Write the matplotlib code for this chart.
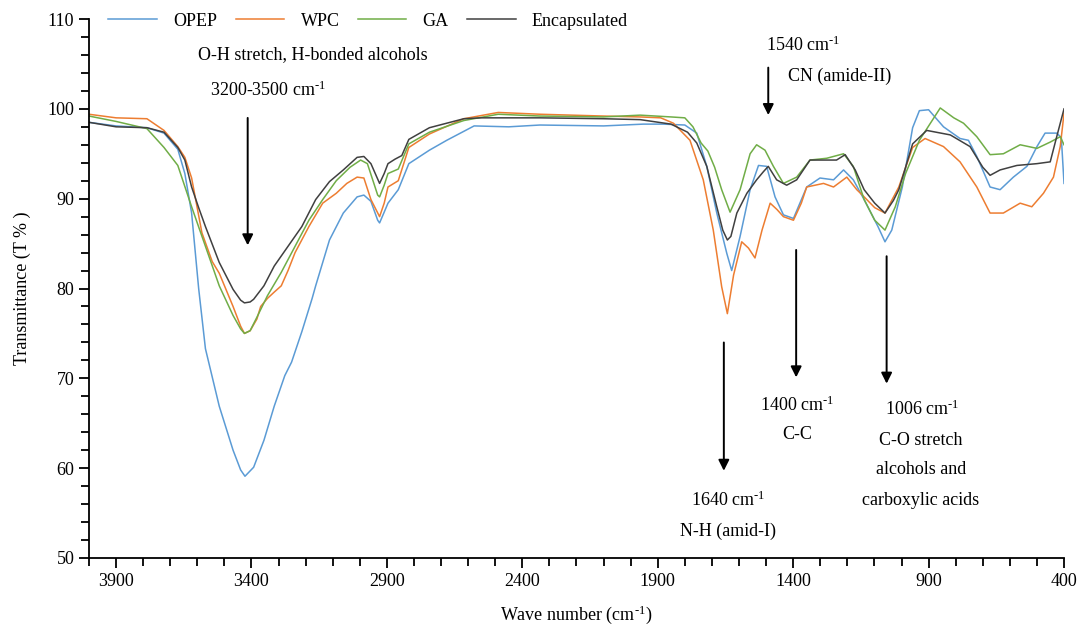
import matplotlib
matplotlib.use('Agg')
import matplotlib.pyplot as plt
from matplotlib.ticker import MultipleLocator

plt.rcParams['font.family'] = ['Liberation Serif', 'DejaVu Serif']
plt.rcParams['mathtext.fontset'] = 'custom'
plt.rcParams['mathtext.rm'] = 'Liberation Serif'
plt.rcParams['mathtext.it'] = 'Liberation Serif:italic'

# ---- data (wave number, transmittance %) ----
opep_wn = [4000, 3900, 3786, 3723, 3672, 3646, 3621, 3595, 3570, 3519, 3468, 3440, 3424, 3392,
           3354, 3316, 3277, 3252, 3214, 3176, 3163, 3112, 3061, 3010, 2985, 2959, 2934, 2927,
           2910, 2896, 2858, 2819, 2743, 2679, 2578, 2450, 2335, 2100, 1953, 1880, 1800, 1756,
           1719, 1682, 1645, 1627, 1596, 1559, 1528, 1498, 1467, 1436, 1399, 1350, 1301, 1251,
           1214, 1178, 1138, 1087, 1061, 1036, 997, 959, 934, 900, 845, 784, 753, 722, 673,
           636, 587, 537, 500, 470, 427, 410, 400]
opep_t = [98.5, 98.1, 97.9, 97.3, 95.5, 92.8, 88.4, 80.0, 73.3, 66.9, 62.0, 59.8, 59.1, 60.1,
          63.1, 66.9, 70.3, 71.8, 75.2, 78.9, 80.3, 85.4, 88.4, 90.2, 90.4, 89.7, 87.6, 87.3,
          88.5, 89.5, 91.0, 93.9, 95.4, 96.5, 98.1, 98.0, 98.2, 98.1, 98.3, 98.3, 98.2, 97.3,
          93.6, 88.4, 83.9, 82.0, 85.8, 91.0, 93.7, 93.6, 90.2, 88.2, 87.8, 91.3, 92.3, 92.1,
          93.2, 92.1, 89.9, 86.9, 85.2, 86.5, 91.3, 97.9, 99.8, 99.9, 98.0, 96.7, 96.5, 94.7,
          91.3, 91.0, 92.4, 93.6, 95.8, 97.3, 97.3, 96.8, 91.7]

wpc_wn = [4000, 3900, 3786, 3723, 3672, 3646, 3621, 3583, 3545, 3519, 3468, 3440, 3426, 3405,
          3380, 3366, 3341, 3316, 3290, 3265, 3239, 3188, 3137, 3087, 3048, 3010, 2985, 2959,
          2927, 2910, 2896, 2858, 2819, 2743, 2616, 2489, 2335, 2100, 1965, 1889, 1842, 1781,
          1732, 1695, 1664, 1643, 1620, 1590, 1565, 1541, 1515, 1485, 1460, 1436, 1399, 1370,
          1350, 1288, 1251, 1202, 1165, 1138, 1099, 1061, 1010, 959, 913, 845, 784, 722, 673,
          624, 562, 519, 476, 439, 414, 400]
wpc_t = [99.4, 99.0, 98.9, 97.6, 95.8, 94.6, 92.3, 86.2, 83.0, 81.7, 78.0, 75.8, 75.0, 75.3,
         76.6, 78.0, 78.9, 79.6, 80.3, 82.0, 84.0, 86.9, 89.5, 90.6, 91.7, 92.4, 92.3, 89.9,
         88.0, 89.5, 91.3, 92.0, 95.7, 97.2, 98.9, 99.6, 99.4, 99.2, 99.1, 99.0, 98.4, 96.5,
         92.1, 86.5, 80.2, 77.2, 81.5, 85.2, 84.5, 83.4, 86.5, 89.5, 88.8, 88.0, 87.6, 89.5,
         91.3, 91.7, 91.3, 92.4, 91.0, 90.2, 89.0, 88.4, 91.3, 95.7, 96.7, 95.8, 94.1, 91.3,
         88.4, 88.4, 89.5, 89.1, 90.6, 92.4, 95.8, 99.5]

ga_wn = [4000, 3900, 3786, 3723, 3672, 3621, 3570, 3519, 3468, 3440, 3426, 3405, 3380, 3341,
         3290, 3239, 3188, 3137, 3087, 3036, 2997, 2972, 2934, 2927, 2910, 2896, 2858, 2819,
         2743, 2616, 2489, 2335, 2100, 1965, 1851, 1800, 1770, 1740, 1715, 1690, 1664, 1633,
         1596, 1559, 1535, 1504, 1473, 1436, 1387, 1338, 1276, 1214, 1178, 1138, 1099, 1061,
         1023, 985, 934, 857, 807, 771, 722, 673, 624, 562, 500, 451, 414, 400]
ga_t = [99.2, 98.6, 97.8, 95.7, 93.7, 89.1, 84.7, 80.3, 77.0, 75.5, 75.0, 75.3, 76.8, 79.2,
        81.8, 84.7, 87.6, 89.9, 92.0, 93.5, 94.3, 93.9, 90.4, 90.2, 91.5, 92.8, 93.3, 96.1,
        97.4, 98.7, 99.4, 99.2, 99.1, 99.3, 99.1, 99.0, 98.0, 96.2, 95.3, 93.5, 91.0, 88.5,
        91.0, 95.0, 96.0, 95.4, 93.6, 91.7, 92.4, 94.3, 94.5, 95.0, 93.6, 89.9, 87.6, 86.5,
        89.1, 92.8, 96.5, 100.1, 99.0, 98.4, 96.9, 94.9, 95.0, 96.0, 95.6, 96.3, 96.9, 96.0]

enc_wn = [4000, 3900, 3786, 3723, 3672, 3646, 3621, 3595, 3570, 3519, 3468, 3440, 3426, 3405,
          3392, 3354, 3316, 3265, 3214, 3163, 3112, 3061, 3010, 2985, 2959, 2927, 2910, 2896,
          2870, 2845, 2819, 2743, 2616, 2552, 2335, 2100, 1965, 1851, 1790, 1756, 1719, 1682,
          1660, 1643, 1630, 1608, 1571, 1535, 1510, 1492, 1461, 1424, 1387, 1338, 1276, 1240,
          1208, 1171, 1138, 1099, 1061, 1030, 1010, 959, 907, 820, 747, 700, 673, 636, 574,
          500, 451, 427, 400]
enc_t = [98.5, 98.0, 97.9, 97.4, 95.7, 94.3, 91.3, 89.0, 86.9, 82.9, 79.9, 78.7, 78.4, 78.5,
         78.8, 80.3, 82.5, 84.7, 86.9, 89.9, 91.9, 93.2, 94.6, 94.7, 93.9, 91.7, 92.8, 93.9,
         94.4, 94.8, 96.6, 97.9, 98.9, 99.0, 99.0, 98.9, 98.8, 98.3, 97.4, 96.2, 93.6, 89.1,
         86.5, 85.4, 85.8, 88.4, 90.6, 92.1, 93.0, 93.6, 92.1, 91.5, 92.1, 94.3, 94.3, 94.3,
         94.9, 93.2, 91.0, 89.5, 88.4, 89.8, 91.0, 96.1, 97.6, 97.1, 95.8, 93.5, 92.6, 93.2, 93.7,
         93.9, 94.1, 96.9, 100.0]

series_names = ['OPEP', 'WPC', 'GA', 'Encapsulated']
series_colors = ['#5B9BD5', '#ED7D31', '#70AD47', '#404040']

fig = plt.figure(figsize=(10.81, 6.28), dpi=100)
ax = fig.add_axes([0.0823, 0.1115, 0.902, 0.8582])

for wn, t, name, c in zip([opep_wn, wpc_wn, ga_wn, enc_wn], [opep_t, wpc_t, ga_t, enc_t],
                          series_names, series_colors):
    ax.plot(wn, t, color=c, lw=1.1, label=name)

ax.set_xlim(4000, 400)
ax.set_ylim(50, 110)
ax.xaxis.set_minor_locator(MultipleLocator(100))
ax.set_xticks([3900, 3400, 2900, 2400, 1900, 1400, 900, 400])
ax.yaxis.set_major_locator(MultipleLocator(10))
ax.yaxis.set_minor_locator(MultipleLocator(2))
ax.tick_params(which='major', length=7, width=1.3, labelsize=13, direction='out')
ax.tick_params(which='minor', length=6, width=1.3, direction='out')
ax.spines['top'].set_visible(False)
ax.spines['right'].set_visible(False)
ax.spines['left'].set_linewidth(1.3)
ax.spines['bottom'].set_linewidth(1.3)

cm = r'cm$^{\text{-}1}$'
ax.set_xlabel('Wave number (' + cm + ')', fontsize=13, labelpad=10)
ax.set_ylabel('Transmittance (T % )', fontsize=13, labelpad=12)

ax.legend(loc='upper left', bbox_to_anchor=(0.02, 1.012), ncol=4, frameon=False,
          fontsize=13, handlelength=2.7, handletextpad=0.9, columnspacing=1.0,
          borderaxespad=0, borderpad=0)

# ---- annotations ----
arrow = dict(arrowstyle='-|>', color='black', lw=1.4, mutation_scale=16)
ax.annotate('', xy=(3414, 84.5), xytext=(3414, 99.3), arrowprops=arrow)
ax.annotate('', xy=(1492, 99.0), xytext=(1492, 104.9), arrowprops=arrow)
ax.annotate('', xy=(1656, 59.4), xytext=(1656, 74.3), arrowprops=arrow)
ax.annotate('', xy=(1389, 69.8), xytext=(1389, 84.6), arrowprops=arrow)
ax.annotate('', xy=(1055, 69.1), xytext=(1055, 83.9), arrowprops=arrow)

fs = 13
ax.text(3173, 106.0, 'O-H stretch, H-bonded alcohols', ha='center', va='center', fontsize=fs)
ax.text(3339, 102.1, '3200-3500 ' + cm, ha='center', va='center', fontsize=fs)
ax.text(1363, 107.1, '1540 ' + cm, ha='center', va='center', fontsize=fs)
ax.text(1230, 103.6, 'CN (amide-II)', ha='center', va='center', fontsize=fs)
ax.text(1640, 56.4, '1640 ' + cm, ha='center', va='center', fontsize=fs)
ax.text(1640, 53.0, 'N-H (amid-I)', ha='center', va='center', fontsize=fs)
ax.text(1386, 67.0, '1400 ' + cm, ha='center', va='center', fontsize=fs)
ax.text(1386, 63.7, 'C-C', ha='center', va='center', fontsize=fs)
ax.text(924, 66.6, '1006 ' + cm, ha='center', va='center', fontsize=fs)
ax.text(928, 63.1, 'C-O stretch', ha='center', va='center', fontsize=fs)
ax.text(928, 59.8, 'alcohols and', ha='center', va='center', fontsize=fs)
ax.text(928, 56.4, 'carboxylic acids', ha='center', va='center', fontsize=fs)

fig.savefig('out.png', dpi=100)
